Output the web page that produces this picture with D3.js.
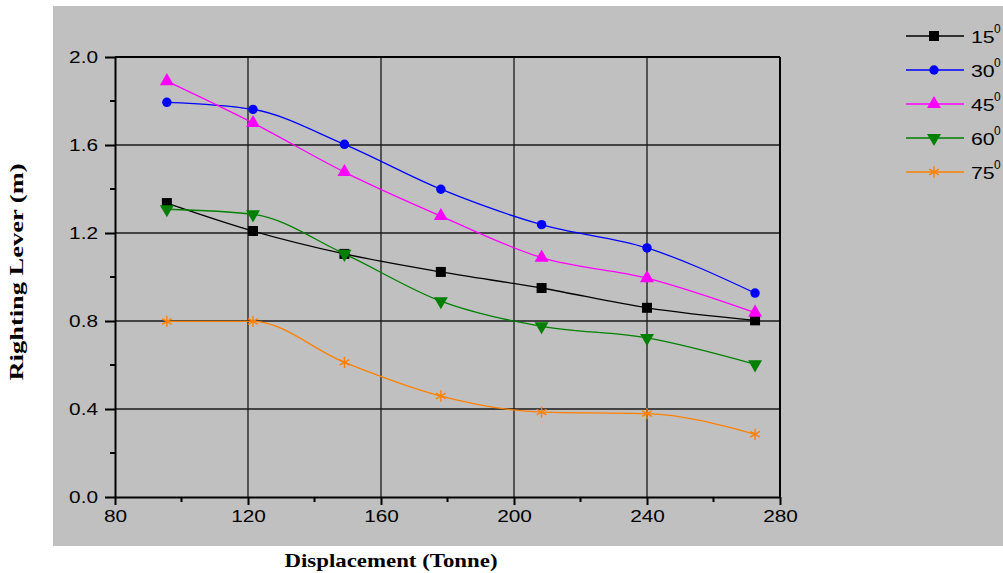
<!DOCTYPE html>
<html>
<head>
<meta charset="utf-8">
<script src="https://cdn.jsdelivr.net/npm/d3@7"></script>
<style>
  html, body { margin: 0; padding: 0; background: #ffffff; }
  svg { display: block; }
</style>
</head>
<body>
<svg id="chart" width="1003" height="573"></svg>
<script>
// Displacement (tonne) at which righting lever was evaluated
const displacement = [95.6, 121.5, 149, 178, 208.3, 240, 272.5];

// Righting lever (m) for each heel angle
const lever15 = [1.336, 1.209, 1.105, 1.023, 0.95, 0.86, 0.803];
const lever30 = [1.794, 1.762, 1.603, 1.399, 1.238, 1.132, 0.927];
const lever45 = [1.89, 1.70, 1.477, 1.277, 1.088, 0.995, 0.838];
const lever60 = [1.308, 1.285, 1.105, 0.89, 0.776, 0.723, 0.603];
const lever75 = [0.798, 0.798, 0.612, 0.459, 0.386, 0.379, 0.285];

const seriesNames = ["15", "30", "45", "60", "75"];
const xTicks = [80, 120, 160, 200, 240, 280];
const yTicks = [0.0, 0.4, 0.8, 1.2, 1.6, 2.0];

const series = [
  { name: seriesNames[0], values: lever15, color: "#000000", symbol: d3.symbolSquare, size: 100, rotate: 0 },
  { name: seriesNames[1], values: lever30, color: "#0000ff", symbol: d3.symbolCircle, size: 70, rotate: 0 },
  { name: seriesNames[2], values: lever45, color: "#ff00ff", symbol: d3.symbolTriangle, size: 85, rotate: 0 },
  { name: seriesNames[3], values: lever60, color: "#008000", symbol: d3.symbolTriangle, size: 85, rotate: 180 },
  { name: seriesNames[4], values: lever75, color: "#ff8000", symbol: d3.symbolAsterisk, size: 90, rotate: 0 }
];

const svg = d3.select("#chart");
const plot = { left: 115, right: 780, top: 57, bottom: 497 };

// stretch text horizontally by a factor while keeping its anchor
function widen(sel, k) {
  sel.each(function () {
    const w = this.getComputedTextLength();
    d3.select(this).attr("textLength", w * k).attr("lengthAdjust", "spacingAndGlyphs");
  });
}

// Gray panel behind the chart
svg.append("rect")
  .attr("x", 53).attr("y", 6)
  .attr("width", 950).attr("height", 540)
  .attr("fill", "#c0c0c0");

const x = d3.scaleLinear().domain([80, 280]).range([plot.left, plot.right]);
const y = d3.scaleLinear().domain([0, 2]).range([plot.bottom, plot.top]);

// Grid lines at major ticks
const grid = svg.append("g").attr("stroke", "#1a1a1a").attr("stroke-width", 1.3);
grid.selectAll("line.v").data(xTicks.slice(1, -1)).join("line")
  .attr("x1", d => x(d)).attr("x2", d => x(d))
  .attr("y1", plot.top).attr("y2", plot.bottom);
grid.selectAll("line.h").data(yTicks.slice(1, -1)).join("line")
  .attr("y1", d => y(d)).attr("y2", d => y(d))
  .attr("x1", plot.left).attr("x2", plot.right);

// Frame: top and right
svg.append("line").attr("x1", plot.left).attr("x2", plot.right)
  .attr("y1", plot.top).attr("y2", plot.top)
  .attr("stroke", "#000").attr("stroke-width", 2);
svg.append("line").attr("x1", plot.right).attr("x2", plot.right)
  .attr("y1", plot.top).attr("y2", plot.bottom)
  .attr("stroke", "#000").attr("stroke-width", 2);

// Minor ticks
const xMinor = d3.range(100, 280, 40);
const yMinor = d3.range(0.2, 2.0, 0.4);
svg.append("g").selectAll("line").data(xMinor).join("line")
  .attr("x1", d => x(d)).attr("x2", d => x(d))
  .attr("y1", plot.bottom).attr("y2", plot.bottom + 5)
  .attr("stroke", "#000").attr("stroke-width", 2);
svg.append("g").selectAll("line").data(yMinor).join("line")
  .attr("y1", d => y(d)).attr("y2", d => y(d))
  .attr("x1", plot.left).attr("x2", plot.left - 5)
  .attr("stroke", "#000").attr("stroke-width", 2);

// Axes
const xAxis = svg.append("g")
  .attr("transform", `translate(0,${plot.bottom})`)
  .call(d3.axisBottom(x).tickValues(xTicks).tickFormat(d3.format("d")).tickSize(8).tickSizeOuter(0));
const yAxis = svg.append("g")
  .attr("transform", `translate(${plot.left},0)`)
  .call(d3.axisLeft(y).tickValues(yTicks).tickFormat(d3.format(".1f")).tickSize(10).tickSizeOuter(0));

[xAxis, yAxis].forEach(ax => {
  ax.select(".domain").attr("stroke", "#000").attr("stroke-width", 2);
  ax.selectAll(".tick line").attr("stroke", "#000").attr("stroke-width", 2);
  ax.selectAll(".tick text")
    .attr("fill", "#000")
    .style("font-family", "'Liberation Sans', Arial, sans-serif")
    .style("font-size", "16px");
});
xAxis.selectAll(".tick text").attr("y", 14);
yAxis.selectAll(".tick text").attr("x", -17);
widen(xAxis.selectAll(".tick text"), 1.3);
widen(yAxis.selectAll(".tick text"), 1.3);

// Series curves and markers
const line = d3.line()
  .x((d, i) => x(displacement[i]))
  .y(d => y(d))
  .curve(d3.curveMonotoneX);

series.forEach(s => {
  svg.append("path")
    .datum(s.values)
    .attr("d", line)
    .attr("fill", "none")
    .attr("stroke", s.color)
    .attr("stroke-width", 1.3);

  const sym = d3.symbol().type(s.symbol).size(s.size);
  svg.append("g").selectAll("path").data(s.values).join("path")
    .attr("d", sym)
    .attr("transform", (d, i) => `translate(${x(displacement[i])},${y(d)}) rotate(${s.rotate})`)
    .attr("fill", s.color)
    .attr("stroke", s.color)
    .attr("stroke-width", s.symbol === d3.symbolAsterisk ? 1.4 : 0);
});

// Legend
const legend = svg.append("g");
series.forEach((s, i) => {
  const ly = 36 + i * 34;
  legend.append("line")
    .attr("x1", 906).attr("x2", 964)
    .attr("y1", ly).attr("y2", ly)
    .attr("stroke", s.color).attr("stroke-width", 1.3);
  legend.append("path")
    .attr("d", d3.symbol().type(s.symbol).size(s.size)())
    .attr("transform", `translate(934,${ly}) rotate(${s.rotate})`)
    .attr("fill", s.color)
    .attr("stroke", s.color)
    .attr("stroke-width", s.symbol === d3.symbolAsterisk ? 1.4 : 0);
  const t = legend.append("text")
    .attr("x", 971).attr("y", ly + 7)
    .attr("fill", "#000")
    .style("font-family", "'Liberation Sans', Arial, sans-serif")
    .style("font-size", "17px")
    .text(s.name);
  widen(t, 1.25);
  legend.append("text")
    .attr("x", 994).attr("y", ly - 3)
    .attr("fill", "#000")
    .style("font-family", "'Liberation Sans', Arial, sans-serif")
    .style("font-size", "12px")
    .text("0");
});

// Axis titles
const xt = svg.append("text")
  .attr("x", 391).attr("y", 567)
  .attr("text-anchor", "middle")
  .attr("fill", "#000")
  .style("font-family", "'Liberation Serif', 'Times New Roman', serif")
  .style("font-weight", "bold")
  .style("font-size", "19px")
  .text("Displacement (Tonne)");
xt.attr("textLength", 213).attr("lengthAdjust", "spacingAndGlyphs");

const yt = svg.append("text")
  .attr("transform", "translate(23,272) rotate(-90)")
  .attr("text-anchor", "middle")
  .attr("fill", "#000")
  .style("font-family", "'Liberation Serif', 'Times New Roman', serif")
  .style("font-weight", "bold")
  .style("font-size", "19px")
  .text("Righting Lever (m)");
yt.attr("textLength", 217).attr("lengthAdjust", "spacingAndGlyphs");
</script>
</body>
</html>
